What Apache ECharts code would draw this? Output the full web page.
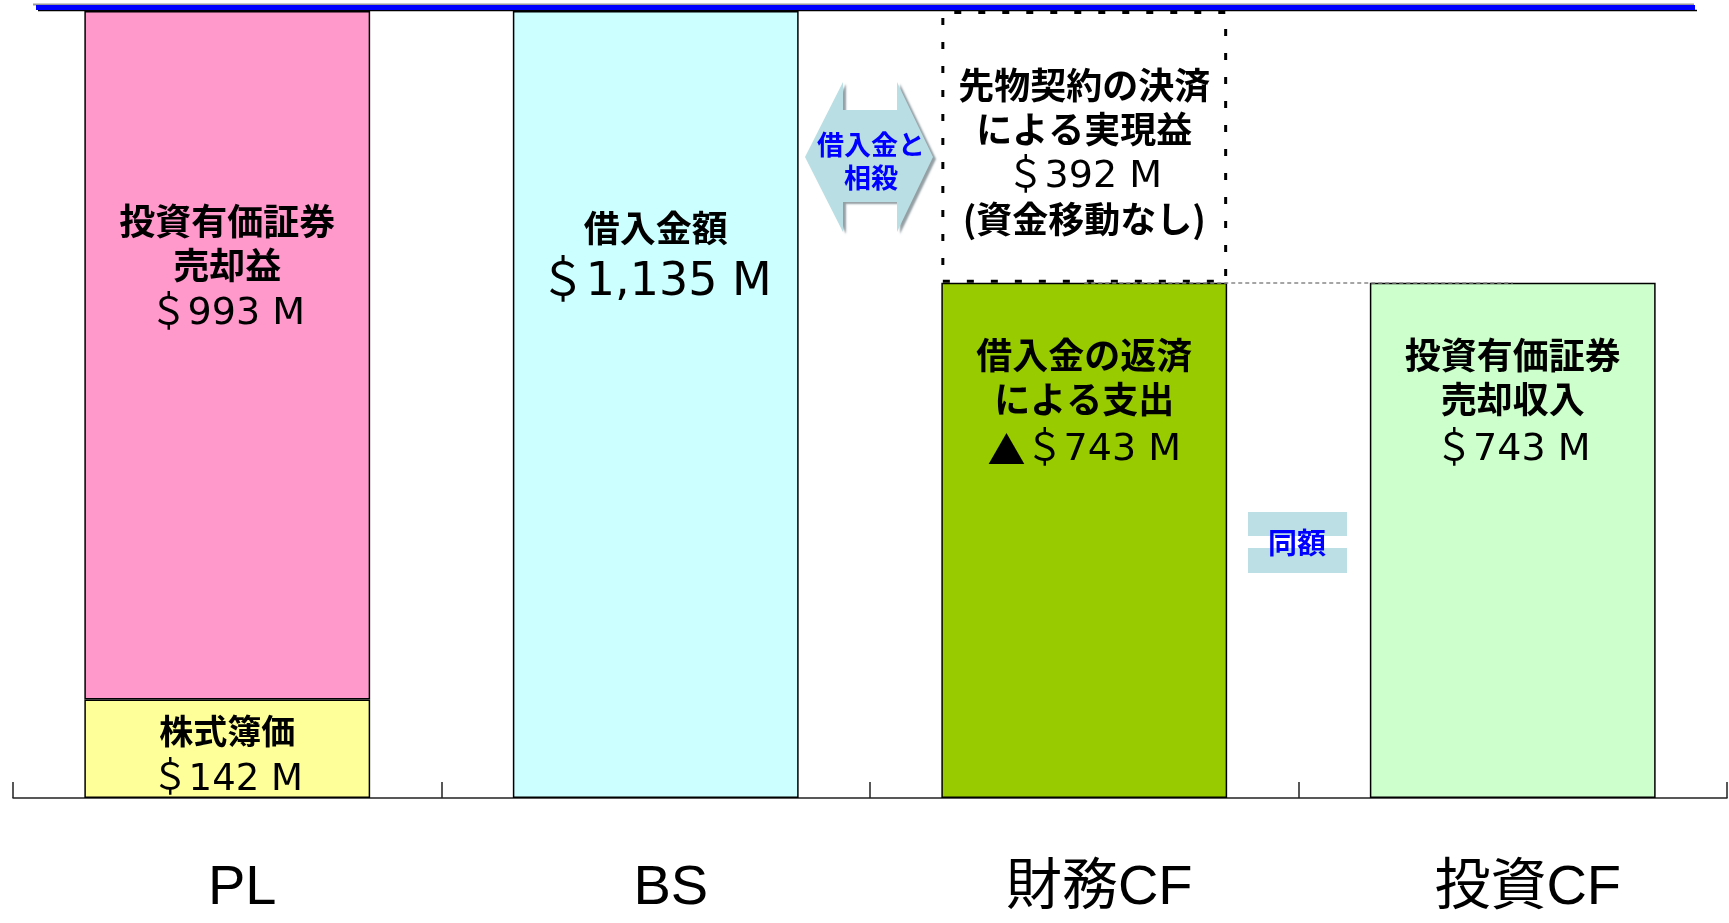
<!DOCTYPE html>
<html>
<head>
<meta charset="utf-8">
<script src="https://cdn.jsdelivr.net/npm/echarts@6/dist/echarts.min.js"></script>
<style>
  html, body { margin: 0; padding: 0; background: #ffffff; }
  #chart { width: 1729px; height: 923px; }
</style>
</head>
<body>
<div id="chart"></div>
<script>
// Categories along the bottom axis
const categories = ['PL', 'BS', '財務CF', '投資CF'];

// Values in $M (each series occupies one category, '-' elsewhere)
const bookValue      = [142, '-', '-', '-'];   // 株式簿価
const saleGain       = [993, '-', '-', '-'];   // 投資有価証券売却益
const borrowings     = ['-', 1135, '-', '-'];  // 借入金額
const repayment      = ['-', '-', 743, '-'];   // 借入金の返済による支出
const futuresGain    = ['-', '-', 392, '-'];   // 先物契約の決済による実現益
const saleProceeds   = ['-', '-', '-', 743];   // 投資有価証券売却収入

const valueMax = 1135;

const JP = "'Noto Sans CJK JP', 'Liberation Sans', sans-serif";
const NUM = "'DejaVu Sans', 'Noto Sans CJK JP', sans-serif";
const AXIS = "'Liberation Sans', 'Noto Sans CJK JP', sans-serif";
const jpStyle = { fontFamily: JP, fontWeight: 'bold', color: '#000', fontSize: 36, lineHeight: 44, align: 'center' };
const numStyle = { fontFamily: NUM, fontWeight: 'normal', color: '#000', fontSize: 38, lineHeight: 55, align: 'center' };
const symStyle = { fontFamily: JP, fontWeight: 'normal', color: '#000', fontSize: 38, lineHeight: 55, align: 'center' };
const border = { borderColor: '#000', borderWidth: 1.5 };

// "＄993 M" as rich text; an optional ▲ prefix is drawn with the CJK face
function moneyRich(v, prefix) {
  return (prefix ? '{s|' + prefix + '}' : '') + '{n|＄' + v.toLocaleString('en-US') + ' M}';
}
function richLabel(lines, value, prefix) {
  return lines.map(l => '{j|' + l + '}').join('\n') + '\n' + moneyRich(value, prefix);
}

const chart = echarts.init(document.getElementById('chart'), null, { renderer: 'canvas' });

chart.setOption({
  backgroundColor: '#ffffff',
  animation: false,
  grid: { left: 13, right: 2, top: 11, bottom: 125, containLabel: false },
  xAxis: {
    type: 'category',
    data: categories,
    boundaryGap: true,
    axisLine: { show: true, lineStyle: { color: '#222', width: 1.5 } },
    axisTick: { show: true, inside: true, length: 16, interval: 0, lineStyle: { color: '#222', width: 1.5 } },
    axisLabel: {
      margin: 63,
      fontFamily: AXIS,
      fontSize: 56,
      lineHeight: 56,
      color: '#000',
      padding: [0, 0, 0, 30]
    }
  },
  yAxis: { type: 'value', min: 0, max: valueMax, show: false, splitLine: { show: false } },
  series: [
    {
      name: '株式簿価', type: 'bar', stack: 'total', data: bookValue,
      barCategoryGap: '33.3%',
      itemStyle: Object.assign({ color: '#ffff99' }, border),
      label: {
        show: true, position: 'insideTop', distance: 10,
        formatter: p => richLabel(['株式簿価'], p.value),
        rich: { j: { ...jpStyle, fontSize: 34 }, n: { ...numStyle, fontSize: 37, lineHeight: 54 } }
      },
      z: 3
    },
    {
      name: '投資有価証券売却益', type: 'bar', stack: 'total', data: saleGain,
      itemStyle: Object.assign({ color: '#ff99cc' }, border),
      label: {
        show: true, position: 'insideTop', distance: 188,
        formatter: p => richLabel(['投資有価証券', '売却益'], p.value),
        rich: { j: jpStyle, n: numStyle }
      },
      z: 3
    },
    {
      name: '借入金額', type: 'bar', stack: 'total', data: borrowings,
      itemStyle: Object.assign({ color: '#ccffff' }, border),
      label: {
        show: true, position: 'insideTop', distance: 194,
        formatter: p => richLabel(['借入金額'], p.value),
        rich: {
          j: { ...jpStyle, lineHeight: 46 },
          n: { ...numStyle, fontSize: 46, lineHeight: 65 }
        }
      },
      z: 3
    },
    {
      name: '借入金の返済による支出', type: 'bar', stack: 'total', data: repayment,
      itemStyle: Object.assign({ color: '#99cc00' }, border),
      label: {
        show: true, position: 'insideTop', distance: 51,
        formatter: p => richLabel(['借入金の返済', 'による支出'], p.value, '▲'),
        rich: { j: jpStyle, n: { ...numStyle, lineHeight: 56 }, s: { ...symStyle, lineHeight: 56 } }
      },
      z: 3
    },
    {
      name: '先物契約の決済による実現益', type: 'bar', stack: 'total', data: futuresGain,
      itemStyle: { color: 'rgba(255,255,255,0)', borderColor: '#000', borderWidth: 3, borderType: [7, 17] },
      label: {
        show: true, position: 'insideTop', distance: 52,
        formatter: p => '{j|先物契約の決済}\n{j|による実現益}\n' + moneyRich(p.value) + '\n{k|(資金移動なし)}',
        rich: {
          j: jpStyle,
          n: { ...numStyle, lineHeight: 52 },
          k: { ...jpStyle, lineHeight: 32 }
        }
      },
      z: 4
    },
    {
      name: '投資有価証券売却収入', type: 'bar', stack: 'total', data: saleProceeds,
      itemStyle: Object.assign({ color: '#ccffcc' }, border),
      label: {
        show: true, position: 'insideTop', distance: 51,
        formatter: p => richLabel(['投資有価証券', '売却収入'], p.value),
        rich: { j: jpStyle, n: { ...numStyle, lineHeight: 56 } }
      },
      z: 3
    },
    {
      // dashed connector between the two equal CF amounts
      name: 'connector', type: 'line', data: [], z: 1,
      markLine: {
        silent: true, symbol: 'none', label: { show: false },
        lineStyle: { color: '#888', type: [4, 3], width: 1.5 },
        data: [[{ coord: ['財務CF', repayment[2]] }, { coord: ['投資CF', saleProceeds[3]] }]]
      }
    }
  ],
  graphic: [
    // top rule
    { type: 'line', shape: { x1: 33, y1: 4.5, x2: 1694, y2: 4.5 }, style: { stroke: '#9a9a9a', lineWidth: 2 }, z: 100 },
    { type: 'rect', shape: { x: 36, y: 5, width: 1659, height: 5 }, style: { fill: '#0000ff' }, z: 101 },
    { type: 'line', shape: { x1: 38, y1: 10.5, x2: 1697, y2: 10.5 }, style: { stroke: '#000', lineWidth: 1.5 }, z: 100 },
    // double-headed arrow: 借入金と相殺
    {
      type: 'polygon', z: 50,
      shape: { points: [[805, 157], [843, 82], [843, 110], [897, 110], [897, 82], [933, 157], [897, 232], [897, 202], [843, 202], [843, 232]] },
      style: { fill: '#b9dee3', shadowColor: 'rgba(60,80,90,0.55)', shadowOffsetX: 3, shadowOffsetY: 2, shadowBlur: 2 }
    },
    {
      type: 'text', z: 51, x: 871, y: 161,
      style: { text: '借入金と\n相殺', fill: '#0000ff', font: "bold 27px 'Noto Sans CJK JP'", align: 'center', verticalAlign: 'middle', lineHeight: 33 }
    },
    // equals sign: 同額
    { type: 'rect', z: 50, shape: { x: 1248, y: 512, width: 99, height: 24 }, style: { fill: '#bbdfe4' } },
    { type: 'rect', z: 50, shape: { x: 1248, y: 548, width: 99, height: 25 }, style: { fill: '#bbdfe4' } },
    {
      type: 'text', z: 51, x: 1297, y: 543,
      style: { text: '同額', fill: '#0000ff', font: "bold 29px 'Noto Sans CJK JP'", align: 'center', verticalAlign: 'middle' }
    }
  ]
});
</script>
</body>
</html>
